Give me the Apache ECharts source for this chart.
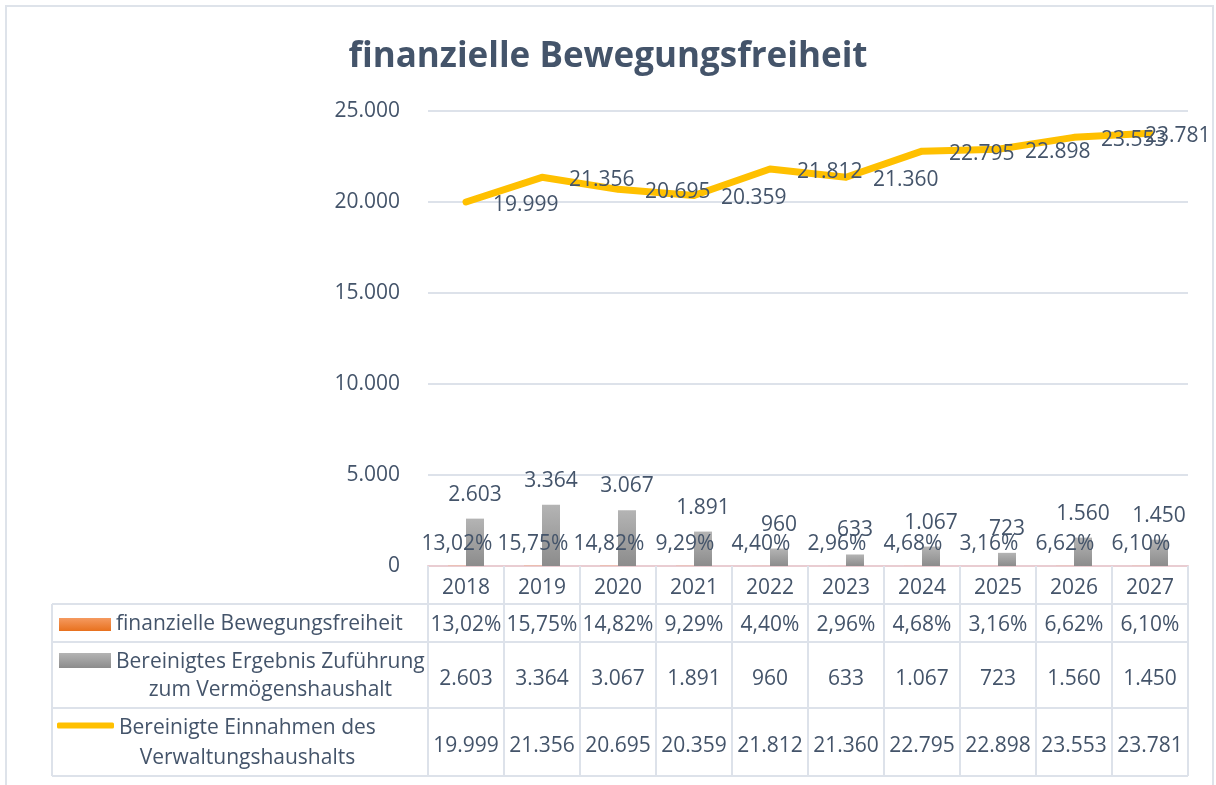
<!DOCTYPE html>
<html>
<head>
<meta charset="utf-8">
<title>finanzielle Bewegungsfreiheit</title>
<script src="https://cdn.jsdelivr.net/npm/echarts@6/dist/echarts.min.js"></script>
<style>
  html, body { margin: 0; padding: 0; background: #fff; }
  #chart { width: 1216px; height: 785px; }
</style>
</head>
<body>
<div id="chart"></div>
<script>
const years      = ['2018', '2019', '2020', '2021', '2022', '2023', '2024', '2025', '2026', '2027']
const bewegung   = [13.02, 15.75, 14.82, 9.29, 4.40, 2.96, 4.68, 3.16, 6.62, 6.10]
const zufuehrung = [2603, 3364, 3067, 1891, 960, 633, 1067, 723, 1560, 1450]
const einnahmen  = [19999, 21356, 20695, 20359, 21812, 21360, 22795, 22898, 23553, 23781]

const NAMES = {
  bew: 'finanzielle Bewegungsfreiheit',
  zuf: 'Bereinigtes Ergebnis Zuführung zum Vermögenshaushalt',
  ein: 'Bereinigte Einnahmen des Verwaltungshaushalts',
}

const TEXT = '#44546A'
const LINE = '#DDE2EA'
const FONT = "'Open Sans', sans-serif"
const FS = 21

function de(v) { return String(v).replace(/\B(?=(\d{3})+(?!\d))/g, '.') }
function pct(v) { return v.toFixed(2).replace('.', ',') + '%' }

// one extra category axis per table row, only ticks (cell dividers) and labels
function rowAxis(data, offset, tickLen, margin) {
  return {
    type: 'category',
    gridIndex: 0,
    position: 'bottom',
    offset: offset,
    data: data,
    axisLine: { show: false },
    axisTick: { show: true, length: tickLen, interval: 0, lineStyle: { color: LINE, width: 2 } },
    axisLabel: { interval: 0, margin: margin, color: TEXT, fontSize: FS, lineHeight: 20, fontFamily: FONT },
    splitLine: { show: false },
  }
}

function hline(y) {
  return { type: 'line', shape: { x1: 52, y1: y, x2: 1188, y2: y }, style: { stroke: LINE, lineWidth: 2 }, silent: true }
}

const chart = echarts.init(document.getElementById('chart'))

const option = {
  animation: false,
  textStyle: { fontFamily: FONT },
  title: {
    text: 'finanzielle Bewegungsfreiheit',
    left: 'center',
    top: 35,
    textStyle: { fontSize: 35, fontWeight: 'bold', color: TEXT, fontFamily: FONT },
  },
  grid: { left: 428, right: 28, top: 111, bottom: 219, outerBoundsMode: 'none' },
  legend: [
    {
      data: [NAMES.bew], left: 59, top: 614, padding: 0, selectedMode: false,
      icon: 'rect', itemWidth: 52, itemHeight: 13,
      textStyle: { color: TEXT, fontSize: FS, lineHeight: 20, fontFamily: FONT },
    },
    {
      data: [NAMES.zuf], left: 59, top: 652, padding: 0, selectedMode: false,
      icon: 'rect', itemWidth: 52, itemHeight: 15,
      formatter: () => '{c|Bereinigtes Ergebnis Zuführung}\n{c|zum Vermögenshaushalt}',
      textStyle: {
        padding: [32, 0, 0, 0],
        rich: { c: { align: 'center', color: TEXT, fontSize: FS, lineHeight: 28, fontFamily: FONT } },
      },
    },
    {
      data: [NAMES.ein], left: 57, top: 718, padding: 0, selectedMode: false,
      icon: 'roundRect', itemWidth: 57, itemHeight: 6,
      formatter: () => '{c|Bereinigte Einnahmen des}\n{c|Verwaltungshaushalts}',
      textStyle: {
        padding: [36, 0, 0, 0],
        rich: { c: { align: 'center', color: TEXT, fontSize: FS, lineHeight: 30, fontFamily: FONT } },
      },
    },
  ],
  xAxis: [
    {
      type: 'category',
      data: years,
      axisLine: { show: true, lineStyle: { color: '#E9CDD2', width: 2 } },
      axisTick: { show: true, length: 38, interval: 0, lineStyle: { color: LINE, width: 2 } },
      axisLabel: { interval: 0, margin: 12, color: TEXT, fontSize: FS, lineHeight: 20, fontFamily: FONT },
    },
    rowAxis(bewegung.map(pct), 38, 38, 11),
    rowAxis(zufuehrung.map(de), 76, 66, 27),
    rowAxis(einnahmen.map(de), 142, 68, 28),
  ],
  yAxis: {
    type: 'value',
    min: 0,
    max: 25000,
    interval: 5000,
    axisLine: { show: false },
    axisTick: { show: false },
    axisLabel: { margin: 28, color: TEXT, fontSize: FS, fontFamily: FONT, formatter: (v) => de(v) },
    splitLine: { lineStyle: { color: LINE, width: 2 } },
  },
  series: [
    {
      name: NAMES.bew,
      type: 'bar',
      data: bewegung,
      barWidth: 18,
      barGap: '0%',
      itemStyle: {
        color: new echarts.graphic.LinearGradient(0, 0, 0, 1, [
          { offset: 0, color: '#F59A60' },
          { offset: 1, color: '#E8711E' },
        ]),
      },
      label: {
        show: true, position: 'top', distance: 12,
        color: TEXT, fontSize: FS, lineHeight: 20, fontFamily: FONT,
        formatter: (p) => pct(p.value),
      },
    },
    {
      name: NAMES.zuf,
      type: 'bar',
      data: zufuehrung,
      barWidth: 18,
      itemStyle: {
        color: new echarts.graphic.LinearGradient(0, 0, 0, 1, [
          { offset: 0, color: '#B4B4B4' },
          { offset: 1, color: '#8C8C8C' },
        ]),
      },
      label: {
        show: true, position: 'top', distance: 14,
        color: TEXT, fontSize: FS, lineHeight: 20, fontFamily: FONT,
        formatter: (p) => de(p.value),
      },
    },
    {
      name: NAMES.ein,
      type: 'line',
      // last label pushed back inside the chart area like Excel does
      data: einnahmen.map((v, i) => i === einnahmen.length - 1
        ? { value: v, label: { offset: [-32, 3] } }
        : v),
      symbol: 'circle',
      symbolSize: 6,
      showSymbol: true,
      color: '#FFC000',
      itemStyle: { color: '#FFC000' },
      lineStyle: { color: '#FFC000', width: 7, cap: 'round', join: 'round' },
      z: 3,
      label: {
        show: true, position: 'right', distance: 24, offset: [0, 3],
        color: TEXT, fontSize: FS, lineHeight: 20, fontFamily: FONT,
        formatter: (p) => de(p.value),
      },
    },
  ],
  graphic: [
    { type: 'rect', shape: { x: 6, y: 6, width: 1207, height: 800 }, style: { fill: 'none', stroke: '#DEE3EA', lineWidth: 2 }, silent: true, z: -1 },
    hline(604),
    hline(642),
    hline(708),
    hline(776),
    { type: 'line', shape: { x1: 52, y1: 604, x2: 52, y2: 776 }, style: { stroke: LINE, lineWidth: 2 }, silent: true },
  ],
}

chart.setOption(option)
window.addEventListener('resize', () => chart.resize())
</script>
</body>
</html>
